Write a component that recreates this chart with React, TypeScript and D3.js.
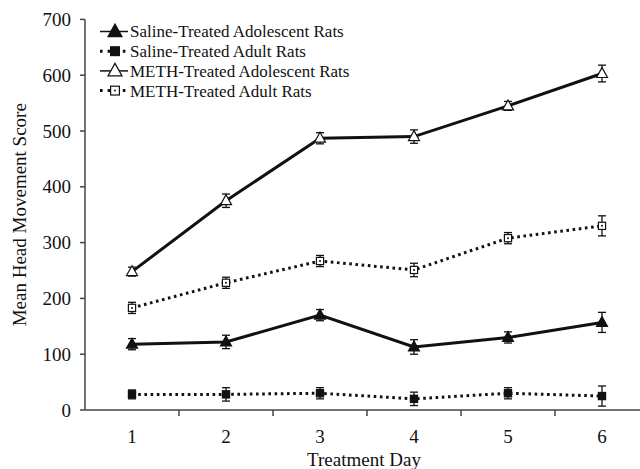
import React from "react";
import * as d3 from "d3";

const days = ["1", "2", "3", "4", "5", "6"];
const yTicks = [0, 100, 200, 300, 400, 500, 600, 700];

const salineAdol = [118, 122, 170, 113, 130, 157];
const salineAdolErr = [10, 12, 10, 13, 10, 18];
const salineAdult = [28, 28, 30, 20, 30, 25];
const salineAdultErr = [8, 12, 10, 12, 10, 18];
const methAdol = [248, 375, 487, 490, 545, 603];
const methAdolErr = [8, 12, 10, 12, 8, 15];
const methAdult = [183, 228, 267, 251, 308, 330];
const methAdultErr = [10, 10, 10, 12, 10, 18];

const seriesNames = [
  "Saline-Treated Adolescent Rats",
  "Saline-Treated Adult Rats",
  "METH-Treated Adolescent Rats",
  "METH-Treated Adult Rats",
];

type Marker = "triFilled" | "sqFilled" | "triOpen" | "sqOpen";
const series = [
  { name: seriesNames[0], values: salineAdol, err: salineAdolErr, dotted: false, marker: "triFilled" as Marker },
  { name: seriesNames[1], values: salineAdult, err: salineAdultErr, dotted: true, marker: "sqFilled" as Marker },
  { name: seriesNames[2], values: methAdol, err: methAdolErr, dotted: false, marker: "triOpen" as Marker },
  { name: seriesNames[3], values: methAdult, err: methAdultErr, dotted: true, marker: "sqOpen" as Marker },
];

const W = 640;
const H = 469;
const axisX = 85;
const axisY = 410;
const FONT = "'Liberation Serif', 'Times New Roman', serif";
const INK = "#111";
const AXIS = "#444";

function MarkerShape({ type, x, y, size }: { type: Marker; x: number; y: number; size: number }) {
  if (type === "triFilled" || type === "triOpen") {
    const h = size * 0.9;
    const p = `M${x},${y - h * 0.6} L${x + size / 2},${y + h * 0.4} L${x - size / 2},${y + h * 0.4} Z`;
    return (
      <path d={p} fill={type === "triFilled" ? INK : "#fff"} stroke={INK} strokeWidth={1.2} />
    );
  }
  const s = size * 0.8;
  return (
    <g>
      <rect x={x - s / 2} y={y - s / 2} width={s} height={s} fill={type === "sqFilled" ? INK : "#fff"} stroke={INK} strokeWidth={1.2} />
      {type === "sqOpen" && <circle cx={x} cy={y} r={1} fill={INK} />}
    </g>
  );
}

export default function App() {
  const x = d3.scaleBand<string>().domain(days).range([axisX, axisX + 94 * 6]);
  const y = d3.scaleLinear().domain([0, 700]).range([axisY, 19.4]);
  const cx = (d: string) => (x(d) as number) + x.bandwidth() / 2;
  const line = d3
    .line<number>()
    .x((_, i) => cx(days[i]))
    .y((v) => y(v));

  const boundaries = days.map((d) => (x(d) as number) + x.bandwidth());

  return (
    <svg width={W} height={H} style={{ position: "absolute", left: 0, top: 0, display: "block", background: "#fff" }} fontFamily={FONT}>
      <rect width={W} height={H} fill="#fff" />
      {/* Y axis */}
      <line x1={axisX} x2={axisX} y1={y(700)} y2={axisY} stroke={AXIS} strokeWidth={1.5} />
      {yTicks.map((t) => (
        <g key={t}>
          <line x1={axisX - 5} x2={axisX} y1={y(t)} y2={y(t)} stroke={AXIS} strokeWidth={1.5} />
          <text x={71} y={y(t)} dy="0.35em" textAnchor="end" fontSize={19} fill={INK}>
            {t}
          </text>
        </g>
      ))}
      <text
        transform={`translate(19,${(y(700) + axisY) / 2}) rotate(-90)`}
        textAnchor="middle"
        dy="0.35em"
        fontSize={19}
        fill={INK}
      >
        Mean Head Movement Score
      </text>

      {/* X axis */}
      <line x1={axisX} x2={W} y1={axisY} y2={axisY} stroke={AXIS} strokeWidth={1.5} />
      {boundaries.map((b, i) => (
        <line key={i} x1={b} x2={b} y1={axisY} y2={axisY + 6} stroke={AXIS} strokeWidth={1.5} />
      ))}
      {days.map((d) => (
        <text key={d} x={cx(d)} y={443} textAnchor="middle" fontSize={19} fill={INK}>
          {d}
        </text>
      ))}
      <text x={(axisX + axisX + 94 * 6) / 2 - 3} y={466} textAnchor="middle" fontSize={19} fill={INK}>
        Treatment Day
      </text>

      {/* Series */}
      {series.map((s, si) => (
        <g key={si}>
          <path
            d={line(s.values) || ""}
            fill="none"
            stroke={INK}
            strokeWidth={3}
            strokeDasharray={s.dotted ? "2.6 3.6" : undefined}
          />
          {s.values.map((v, i) => {
            const px = cx(days[i]);
            const e = s.err[i];
            return (
              <g key={i}>
                <line x1={px} x2={px} y1={y(v - e)} y2={y(v + e)} stroke={INK} strokeWidth={1.3} />
                <line x1={px - 4} x2={px + 4} y1={y(v - e)} y2={y(v - e)} stroke={INK} strokeWidth={1.3} />
                <line x1={px - 4} x2={px + 4} y1={y(v + e)} y2={y(v + e)} stroke={INK} strokeWidth={1.3} />
                <MarkerShape type={s.marker} x={px} y={y(v)} size={s.marker.startsWith("tri") ? 11 : 9} />
              </g>
            );
          })}
        </g>
      ))}

      {/* Legend */}
      {series.map((s, i) => {
        const ly = 31.5 + i * 19.7;
        return (
          <g key={i}>
            <line
              x1={100}
              x2={128}
              y1={ly}
              y2={ly}
              stroke={INK}
              strokeWidth={s.dotted ? 3 : 1.5}
              strokeDasharray={s.dotted ? "2.6 5" : undefined}
            />
            <MarkerShape type={s.marker} x={115} y={ly} size={s.marker.startsWith("tri") ? 14 : 11} />
            <text x={130} y={ly} dy="0.35em" fontSize={17} fill={INK}>
              {s.name}
            </text>
          </g>
        );
      })}
    </svg>
  );
}
